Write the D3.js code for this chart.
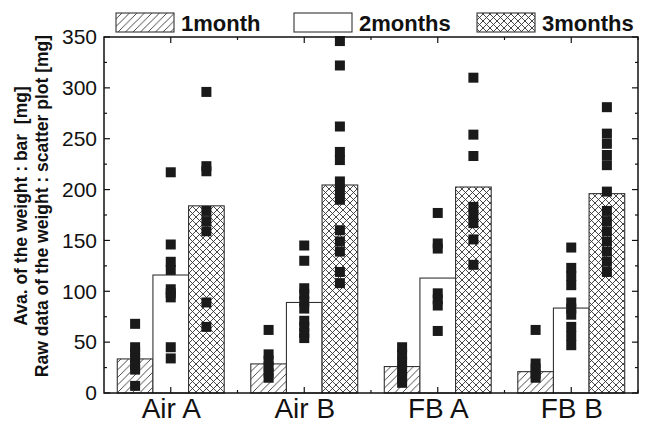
<!DOCTYPE html>
<html>
<head>
<meta charset="utf-8">
<script src="https://cdn.jsdelivr.net/npm/d3@7"></script>
<style>
  body { margin: 0; background: #fff; }
  svg { display: block; font-family: "Liberation Sans", Arial, sans-serif; }
</style>
</head>
<body>
<svg width="646" height="427"></svg>
<script>
// categories and series
categories = ["Air A", "Air B", "FB A", "FB B"];
seriesNames = ["1month", "2months", "3months"];

// average weight (bar) [mg]
mean1 = [33.5, 28.6, 26, 21];
mean2 = [116, 89, 113, 83.5];
mean3 = [184, 204.5, 202.5, 196];

// raw data (scatter) [mg], one list per category
raw1 = [
    [68, 45, 40, 34, 28, 23, 7],
    [62, 38, 32, 26, 20, 15],
    [45, 38, 30, 22, 15, 10],
    [62, 29, 24, 19, 15]
];
raw2 = [
    [217, 146, 129, 121, 102, 98, 94, 45, 34],
    [145, 130, 103, 97, 90, 83, 71, 65, 59, 54],
    [177, 147, 142, 98, 92, 86, 61],
    [143, 123, 115, 106, 89, 83, 77, 65, 56, 47]
];
raw3 = [
    [296, 223, 218, 179, 169, 159, 89, 65],
    [346, 322, 262, 237, 229, 208, 199, 190, 160, 149, 139, 119, 108],
    [310, 254, 233, 183, 175, 167, 151, 126],
    [281, 255, 245, 234, 224, 198, 179, 169, 159, 149, 139, 129, 119]
];

yTicks = [0, 50, 100, 150, 200, 250, 300, 350];

means = [mean1, mean2, mean3];
raws = [raw1, raw2, raw3];

svg = d3.select("svg");

// plot box (note: "top" is taken by window.top)
pLeft = 104; pRight = 638; pTop = 37; pBottom = 393;

xScale = d3.scaleLinear().domain([0.5, 4.5]).range([pLeft, pRight]);
yScale = d3.scaleLinear().domain([0, 350]).range([pBottom, pTop]);

barW = 0.267; // in category units
offsets = [-1, 0, 1];

// patterns
defs = svg.append("defs");
p1 = defs.append("pattern")
    .attr("id", "hatch")
    .attr("patternUnits", "userSpaceOnUse")
    .attr("width", 7.5).attr("height", 7.5);
p1.append("rect").attr("width", 7.5).attr("height", 7.5).attr("fill", "#fff");
p1.append("path")
    .attr("d", "M-1,8.5 L8.5,-1 M-1,1 L1,-1 M6.5,8.5 L8.5,6.5")
    .attr("stroke", "#333").attr("stroke-width", 0.9);

p3 = defs.append("pattern")
    .attr("id", "cross")
    .attr("patternUnits", "userSpaceOnUse")
    .attr("width", 7).attr("height", 7);
p3.append("rect").attr("width", 7).attr("height", 7).attr("fill", "#fff");
p3.append("path")
    .attr("d", "M0,0 L7,7 M0,7 L7,0")
    .attr("stroke", "#333").attr("stroke-width", 0.9);

fills = ["url(#hatch)", "#fff", "url(#cross)"];

// bars
barData = [];
for (s = 0; s < 3; s++) {
    for (c = 0; c < categories.length; c++) {
        barData.push({ s: s, c: c, v: means[s][c] });
    }
}

bw = xScale(1 + barW) - xScale(1);

svg.append("g").selectAll("rect")
    .data(barData)
    .enter()
    .append("rect")
    .attr("x", (d) => xScale(d.c + 1 + offsets[d.s] * barW) - bw / 2)
    .attr("y", (d) => yScale(d.v))
    .attr("width", bw)
    .attr("height", (d) => yScale(0) - yScale(d.v))
    .attr("fill", (d) => fills[d.s])
    .attr("stroke", "#333")
    .attr("stroke-width", 1.1);

// scatter squares
pts = [];
for (s = 0; s < 3; s++) {
    for (c = 0; c < categories.length; c++) {
        raws[s][c].forEach((v) => pts.push({ s: s, c: c, v: v }));
    }
}
sq = 10;
svg.append("g").selectAll("rect")
    .data(pts)
    .enter()
    .append("rect")
    .attr("x", (d) => xScale(d.c + 1 + offsets[d.s] * barW) - sq / 2)
    .attr("y", (d) => yScale(d.v) - sq / 2)
    .attr("width", sq)
    .attr("height", sq)
    .attr("fill", "#1a1a1a");

// frame
svg.append("rect")
    .attr("x", pLeft).attr("y", pTop)
    .attr("width", pRight - pLeft).attr("height", pBottom - pTop)
    .attr("fill", "none").attr("stroke", "#111").attr("stroke-width", 1.5);

// y axis (left) labels
yAxisL = d3.axisLeft(yScale).tickValues(yTicks).tickSize(0).tickPadding(7);
gy = svg.append("g").attr("transform", `translate(${pLeft},0)`).call(yAxisL);
gy.select(".domain").remove();
gy.selectAll("text").attr("font-size", 21).attr("fill", "#111")
    .attr("font-family", "Liberation Sans, Arial, sans-serif");

// inward ticks on all four sides
minorY = d3.range(0, 351, 25);
tickG = svg.append("g").attr("stroke", "#111").attr("stroke-width", 1.2);
minorY.forEach((v) => {
    len = v % 50 == 0 ? 6 : 3;
    tickG.append("line").attr("x1", pLeft).attr("x2", pLeft + len)
        .attr("y1", yScale(v)).attr("y2", yScale(v));
    tickG.append("line").attr("x1", pRight).attr("x2", pRight - len)
        .attr("y1", yScale(v)).attr("y2", yScale(v));
});

xt = d3.range(1, 4.51, 0.5);
xt.forEach((v) => {
    len = Number.isInteger(v) ? 6 : 3;
    tickG.append("line").attr("x1", xScale(v)).attr("x2", xScale(v))
        .attr("y1", pBottom).attr("y2", pBottom - len);
    tickG.append("line").attr("x1", xScale(v)).attr("x2", xScale(v))
        .attr("y1", pTop).attr("y2", pTop + len);
});

// x labels
xAxis = d3.axisBottom(xScale).tickValues([1, 2, 3, 4])
    .tickFormat((d) => categories[d - 1]).tickSize(0).tickPadding(5);
gx = svg.append("g").attr("transform", `translate(0,${pBottom})`).call(xAxis);
gx.select(".domain").remove();
gx.selectAll("text").attr("font-size", 28).attr("fill", "#111")
    .attr("font-family", "Liberation Sans, Arial, sans-serif");

// y label (two lines)
svg.append("text")
    .attr("transform", "translate(27,206) rotate(-90)")
    .attr("text-anchor", "middle")
    .attr("font-size", 17.5).attr("font-weight", "bold").attr("fill", "#111")
    .attr("xml:space", "preserve")
    .text("Ava. of the weight : bar  [mg]");
svg.append("text")
    .attr("transform", "translate(48,206) rotate(-90)")
    .attr("text-anchor", "middle")
    .attr("font-size", 17.5).attr("font-weight", "bold").attr("fill", "#111")
    .text("Raw data of the weight : scatter plot [mg]");

// legend
legX = [116, 294, 477];
legend = svg.append("g");
seriesNames.forEach((name, i) => {
    legend.append("rect")
        .attr("x", legX[i]).attr("y", 13)
        .attr("width", 58).attr("height", 19)
        .attr("fill", fills[i]).attr("stroke", "#333").attr("stroke-width", 1.1);
    legend.append("text")
        .attr("x", legX[i] + 65).attr("y", 31)
        .attr("font-size", 22).attr("font-weight", "bold").attr("fill", "#111")
        .text(name);
});
</script>
</body>
</html>
